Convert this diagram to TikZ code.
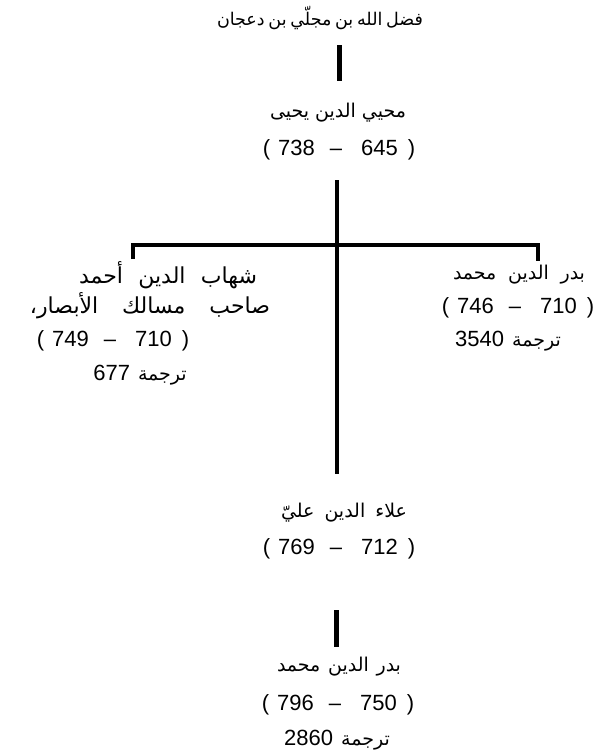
\documentclass[tikz,border=0pt]{standalone}
\usepackage{fontspec}
\setmainfont{Liberation Sans}
\newfontfamily\arabicfont[Script=Arabic]{DejaVu Sans}
\TeXXeTstate=1
\newcommand{\dates}[2]{(\hspace{8pt}#1\hspace{15pt}--\hspace{19pt}#2\hspace{10pt})}
\newcommand{\dg}{\fontsize{22}{24}\rmfamily\selectfont}
\begin{document}
\begin{tikzpicture}[x=1pt,y=-1pt,
  nm/.style={inner sep=0pt,font=\arabicfont\fontsize{19}{23}\selectfont},
  nmbig/.style={inner sep=0pt,font=\arabicfont\fontsize{22}{26}\selectfont},
  nmsmall/.style={inner sep=0pt,font=\arabicfont\fontsize{17.5}{21}\selectfont},
  num/.style={inner sep=0pt,font=\fontsize{22}{24}\selectfont},
  link/.style={line width=#1,line cap=butt},
  link/.default=4pt]
\useasboundingbox[fill=white] (0,0) rectangle (595,753);
% top
\node[nmsmall] (n0) at (320,18) {\hbox to 206pt{\beginR فضل الله بن مجلّي بن دعجان\endR}};
\node[nm] (n1) at (338,113) {\hbox to 136pt{\beginR محيي الدين يحيى\endR}};
\node[num] (d1) at (339,150) {\dates{738}{645}};
% left
\node[nmbig] (l1) at (168,275) {\hbox to 178pt{\beginR شهاب الدين أحمد\endR}};
\node[nmbig] (l2) at (150,306) {\hbox to 240pt{\beginR صاحب مسالك الأبصار،\endR}};
\node[num] (l3) at (113,341) {\dates{749}{710}};
\node[nm] (l4) at (140,375) {\beginR ترجمة\hspace{8pt}{\dg\beginL 677\endL}\endR};
% right
\node[nm] (r1) at (519,275) {\hbox to 132pt{\beginR بدر الدين محمد\endR}};
\node[num] (r2) at (518,308) {\dates{746}{710}};
\node[nm] (r3) at (508,341) {\beginR ترجمة\hspace{8pt}{\dg\beginL 3540\endL}\endR};
% bottom
\node[nm] (a1) at (344,513) {\hbox to 126pt{\beginR علاء الدين عليّ\endR}};
\node[num] (a2) at (339,549) {\dates{769}{712}};
\node[nm] (b1) at (339,667) {\hbox to 124pt{\beginR بدر الدين محمد\endR}};
\node[num] (b2) at (338,705) {\dates{796}{750}};
\node[nm] (b3) at (337,740) {\beginR ترجمة\hspace{8pt}{\dg\beginL 2860\endL}\endR};
% line end coordinates
\coordinate (c0t) at (339,45);
\coordinate (c0b) at (339,81);
\coordinate (vt) at (337,180);
\coordinate (vb) at (337,474);
\coordinate (jl) at (133,245);
\coordinate (jr) at (538,245);
\coordinate (tl) at (133,259);
\coordinate (tr) at (538,261);
\coordinate (c1t) at (336,610);
\coordinate (c1b) at (336,647);
% connectors
\draw[link=5pt] (c0t) -- (c0b);
\draw[link=3.2pt] (vt) -- (vb);
\draw[link=4pt] (tl) -- (jl) -- (jr) -- (tr);
\draw[link=5pt] (c1t) -- (c1b);
\end{tikzpicture}
\end{document}
